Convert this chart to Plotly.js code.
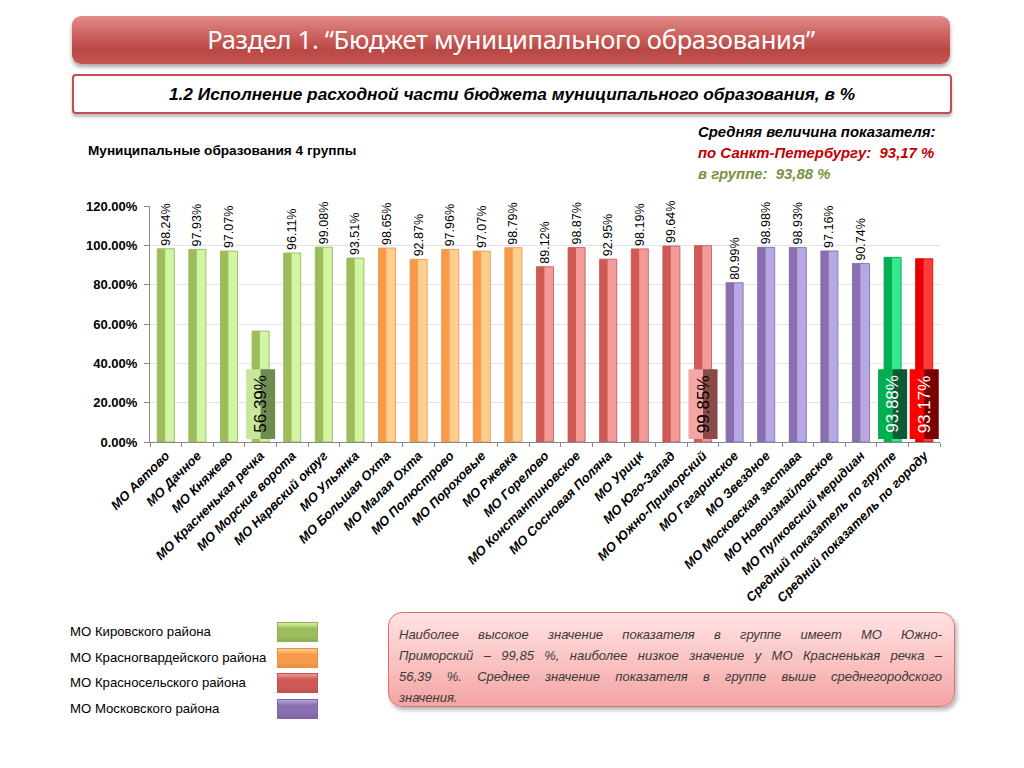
<!DOCTYPE html>
<html><head><meta charset="utf-8">
<script src="https://cdn.plot.ly/plotly-3.0.1.min.js"></script>
<style>
html,body{margin:0;padding:0;background:#fff;width:1024px;height:768px;overflow:hidden;font-family:"Liberation Sans",Arial,sans-serif;}
#chart{position:absolute;left:0;top:0;width:1024px;height:768px;}
.abs{position:absolute;}
#hdr{left:72px;top:16px;width:878px;height:48px;border-radius:9px;
 background:linear-gradient(to bottom,#e08c8a 0%,#cf6764 35%,#b94844 70%,#c45552 100%);
 box-shadow:0 3px 4px rgba(0,0,0,0.35);color:#fff;font-family:"Noto Sans",sans-serif;font-size:25.5px;
 text-align:center;line-height:46px;letter-spacing:-0.3px;}
#sub{left:72px;top:74px;width:876px;height:36px;border:2px solid #c0504d;border-radius:4px;background:#fff;
 box-shadow:0 3px 3px rgba(0,0,0,0.25);text-align:center;line-height:36px;font-weight:bold;font-style:italic;font-size:17.3px;color:#000;}
#grp{left:88px;top:143px;font-weight:bold;font-size:13.6px;color:#000;}
#avg{left:698px;top:122px;font-weight:bold;font-style:italic;font-size:14.9px;line-height:21px;}
#leg{left:70px;top:624px;font-size:13.2px;color:#000;}
.lrow{position:absolute;left:0;white-space:nowrap;}
.sw{position:absolute;left:207px;width:41px;height:20px;box-sizing:border-box;}
#note{left:388px;top:612px;width:567px;height:95px;box-sizing:border-box;border-radius:14px;border:1px solid #d9716e;
 background:linear-gradient(to bottom,#ffe3e3 0%,#fbc4c4 50%,#f3a3a3 100%);box-shadow:2px 3px 4px rgba(0,0,0,0.3);
 padding:11px 12px 0 10px;font-style:italic;font-size:13px;line-height:21px;color:#3a3a3a;}
#note span{display:block;white-space:nowrap;text-align:justify;text-align-last:justify;}
#note span.last{text-align-last:left;}
</style></head>
<body>
<div id="chart"></div>
<div id="hdr" class="abs">Раздел 1. “Бюджет муниципального образования”</div>
<div id="sub" class="abs">1.2 Исполнение расходной части бюджета муниципального образования, в %</div>
<div id="grp" class="abs">Муниципальные образования 4 группы</div>
<div id="avg" class="abs"><span style="color:#000">Средняя величина показателя:</span><br><span style="color:#c00000">по Санкт-Петербургу:&nbsp; 93,17 %</span><br><span style="color:#77933c">в группе:&nbsp; 93,88 %</span></div>
<div id="leg" class="abs"></div>
<div id="note" class="abs"><span>Наиболее высокое значение показателя в группе имеет МО Южно-</span><span>Приморский – 99,85 %, наиболее низкое значение у МО Красненькая речка –</span><span>56,39 %. Среднее значение показателя в группе выше среднегородского</span><span class="last">значения.</span></div>
<script>
// ---- data ----
var categories = ["МО Автово","МО Дачное","МО Княжево","МО Красненькая речка","МО Морские ворота","МО Нарвский округ","МО Ульянка",
 "МО Большая Охта","МО Малая Охта","МО Полюстрово","МО Пороховые","МО Ржевка",
 "МО Горелово","МО Константиновское","МО Сосновая Поляна","МО Урицк","МО Юго-Запад","МО Южно-Приморский",
 "МО Гагаринское","МО Звездное","МО Московская застава","МО Новоизмайловское","МО Пулковский меридиан",
 "Средний показатель по группе","Средний показатель по городу"];
var values = [98.24,97.93,97.07,56.39,96.11,99.08,93.51,
 98.65,92.87,97.96,97.07,98.79,
 89.12,98.87,92.95,98.19,99.64,99.85,
 80.99,98.98,98.93,97.16,90.74,
 93.88,93.17];
var groups = ["kir","kir","kir","kir","kir","kir","kir","krg","krg","krg","krg","krg",
 "krs","krs","krs","krs","krs","krs","mos","mos","mos","mos","mos","avgGroup","avgCity"];
var highlighted = ["МО Красненькая речка","МО Южно-Приморский","Средний показатель по группе","Средний показатель по городу"];
var legendNames = ["МО Кировского района","МО Красногвардейского района","МО Красносельского района","МО Московского района"];
var legendGroups = ["kir","krg","krs","mos"];
var yTicks = [0,20,40,60,80,100,120];

// ---- styles ----
var light = {kir:"#d2f5a4",krg:"#ffcf8f",krs:"#f29b99",mos:"#b7a7e3",avgGroup:"#36e890",avgCity:"#ff3b3b"};
var dark  = {kir:"#9dbd5c",krg:"#f79a4a",krs:"#cf5955",mos:"#8a6fb0",avgGroup:"#00b050",avgCity:"#e60000"};
var edge  = {kir:"#8fae55",krg:"#e89048",krs:"#c05350",mos:"#7e66a6",avgGroup:"#079a48",avgCity:"#c00000"};
var boxL = {kir:"#c8e79a",krs:"#f4a6a4",avgGroup:"#00b050",avgCity:"#ff0000"};
var boxR = {kir:"#6f8c50",krs:"#8b4a47",avgGroup:"#0b5a33",avgCity:"#7a0000"};
var boxTxt = {kir:"#000",krs:"#000",avgGroup:"#fff",avgCity:"#fff"};

function pct(v){return v.toFixed(2)+"%";}
var labels = values.map(function(v,i){return highlighted.indexOf(categories[i])>=0?"":pct(v);});

var traceLight = {type:"bar",x:categories,y:values,width:0.54,
 marker:{color:groups.map(function(g){return light[g];}),line:{color:groups.map(function(g){return edge[g];}),width:0.8}},
 text:labels,textposition:"outside",textangle:-90,constraintext:"none",cliponaxis:false,
 textfont:{family:"Liberation Sans, Arial",size:12.5,color:"#000"},hoverinfo:"x+y",showlegend:false};
var traceDark = {type:"bar",x:categories,y:values,width:0.25,offset:-0.27,
 marker:{color:groups.map(function(g){return dark[g];}),line:{width:0}},hoverinfo:"skip",showlegend:false};

var shapes=[],annotations=[];
highlighted.forEach(function(c){
 var i=categories.indexOf(c), g=groups[i];
 shapes.push({type:"rect",xref:"x",yref:"y",x0:i-0.46,x1:i,y0:1.5,y1:37,fillcolor:boxL[g],line:{width:0},layer:"above"});
 shapes.push({type:"rect",xref:"x",yref:"y",x0:i,x1:i+0.46,y0:1.5,y1:37,fillcolor:boxR[g],line:{width:0},layer:"above"});
 annotations.push({x:c,y:19.25,xref:"x",yref:"y",text:pct(values[i]),showarrow:false,textangle:-90,
  font:{family:"Liberation Sans, Arial",size:17,color:boxTxt[g]}});
});

var layout = {width:1024,height:768,margin:{l:150,r:84,t:206,b:326},paper_bgcolor:"rgba(0,0,0,0)",plot_bgcolor:"#fff",
 barmode:"overlay",showlegend:false,
 xaxis:{type:"category",tickangle:-45,tickson:"boundaries",ticks:"outside",ticklen:4,tickcolor:"#888",
  showline:true,linecolor:"#888",linewidth:1,showgrid:false,
  tickfont:{family:"Liberation Sans, Arial",size:13,color:"#000",weight:"bold",style:"italic"}},
 yaxis:{range:[0,120],tickvals:yTicks,ticktext:yTicks.map(function(v){return v.toFixed(2)+"%";}),
  ticks:"outside",ticklen:5,tickcolor:"#888",showline:true,linecolor:"#888",linewidth:1,ticklabelstandoff:4,
  showgrid:true,gridcolor:"#e3e3e3",gridwidth:1,zeroline:false,
  tickfont:{family:"Liberation Sans, Arial",size:13,color:"#000",weight:"bold"}},
 shapes:shapes,annotations:annotations};

Plotly.newPlot("chart",[traceLight,traceDark],layout,{staticPlot:true,displayModeBar:false});

// legend
var leg=document.getElementById("leg");
legendNames.forEach(function(n,k){
 var g=legendGroups[k];
 var r=document.createElement("div");r.className="lrow";r.style.top=(k*25.7)+"px";r.textContent=n;leg.appendChild(r);
 var s=document.createElement("div");s.className="sw";s.style.top=(k*25.7-2)+"px";
 s.style.background="linear-gradient(to bottom,"+light[g]+" 0%,"+dark[g]+" 30%,"+dark[g]+" 70%,"+edge[g]+" 100%)";
 s.style.border="1px solid "+edge[g];leg.appendChild(s);
});
</script>
</body></html>
